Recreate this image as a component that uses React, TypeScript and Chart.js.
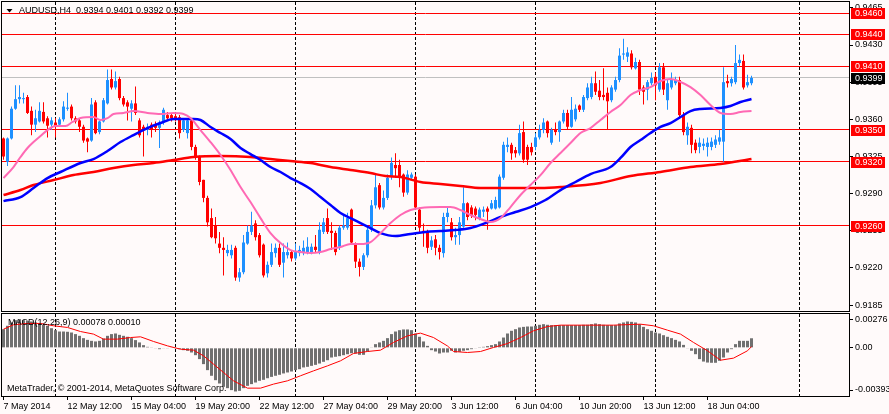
import React, { useEffect, useRef } from 'react'
import { Chart, registerables } from 'chart.js'

Chart.register(...registerables)

const FONT = "'Liberation Sans', Arial, sans-serif"
const BULL = '#1e90ff'
const BEAR = '#ff0000'
const BG = '#fffafa'

// AUDUSD H4 candles, left to right
const opens = [
  0.9342, 0.9320, 0.9342, 0.9370, 0.9379, 0.9379, 0.9381, 0.9368, 0.9355, 0.9358,
  0.9367, 0.9361, 0.9355, 0.9357, 0.9355, 0.9360, 0.9370, 0.9372, 0.9361, 0.9359,
  0.9353, 0.9342, 0.9340, 0.9376, 0.9348, 0.9358, 0.9375, 0.9398, 0.9390, 0.9398,
  0.9380, 0.9376, 0.9370, 0.9375, 0.9359, 0.9353, 0.9350, 0.9355, 0.9355, 0.9352,
  0.9357, 0.9364, 0.9364, 0.9363, 0.9362, 0.9350, 0.9347, 0.9359, 0.9334, 0.9325,
  0.9303, 0.9286, 0.9267, 0.9260, 0.9243, 0.9239, 0.9234, 0.9232, 0.9239, 0.9211,
  0.9216, 0.9243, 0.9254, 0.9262, 0.9251, 0.9242, 0.9215, 0.9223, 0.9234, 0.9239,
  0.9225, 0.9232, 0.9235, 0.9229, 0.9234, 0.9234, 0.9235, 0.9235, 0.9240, 0.9235,
  0.9254, 0.9267, 0.9255, 0.9253, 0.9240, 0.9258, 0.9258, 0.9275, 0.9242, 0.9226,
  0.9221, 0.9232, 0.9256, 0.9279, 0.9298, 0.9277, 0.9286, 0.9306, 0.9317, 0.9317,
  0.9308, 0.9291, 0.9305, 0.9306, 0.9275, 0.9255, 0.9254, 0.9240, 0.9247, 0.9239,
  0.9234, 0.9268, 0.9263, 0.9249, 0.9251, 0.9259, 0.9281, 0.9277, 0.9276, 0.9267,
  0.9273, 0.9276, 0.9276, 0.9276, 0.9277, 0.9305, 0.9334, 0.9336, 0.9331, 0.9328,
  0.9348, 0.9334, 0.9334, 0.9334, 0.9343, 0.9350, 0.9358, 0.9338, 0.9350, 0.9348,
  0.9358, 0.9366, 0.9353, 0.9360, 0.9373, 0.9369, 0.9380, 0.9381, 0.9394, 0.9387,
  0.9383, 0.9385, 0.9378, 0.9388, 0.9397, 0.9421, 0.9419, 0.9422, 0.9408, 0.9414,
  0.9390, 0.9388, 0.9394, 0.9400, 0.9388, 0.9409, 0.9378, 0.9390, 0.9394, 0.9397,
  0.9364, 0.9345, 0.9352, 0.9338, 0.9334, 0.9335, 0.9334, 0.9334, 0.9336, 0.9339,
  0.9339, 0.9396, 0.9394, 0.9395, 0.9413, 0.9415, 0.9392, 0.9394,
]
const highs = [
  0.9343, 0.9343, 0.9372, 0.9392, 0.9392, 0.9385, 0.9383, 0.9372, 0.9369, 0.9376,
  0.9376, 0.9363, 0.9362, 0.9361, 0.9362, 0.9377, 0.9385, 0.9374, 0.9363, 0.9361,
  0.9355, 0.9343, 0.9380, 0.9378, 0.9359, 0.9380, 0.9407, 0.9407, 0.9405, 0.9400,
  0.9382, 0.9378, 0.9378, 0.9391, 0.9361, 0.9355, 0.9356, 0.9357, 0.9358, 0.9359,
  0.9371, 0.9367, 0.9366, 0.9366, 0.9364, 0.9361, 0.9361, 0.9361, 0.9336, 0.9326,
  0.9303, 0.9288, 0.9276, 0.9268, 0.9254, 0.9249, 0.9242, 0.9242, 0.9241, 0.9220,
  0.9251, 0.9260, 0.9273, 0.9265, 0.9253, 0.9243, 0.9226, 0.9243, 0.9243, 0.9243,
  0.9243, 0.9244, 0.9237, 0.9243, 0.9241, 0.9246, 0.9249, 0.9243, 0.9251, 0.9263,
  0.9267, 0.9276, 0.9263, 0.9255, 0.9260, 0.9270, 0.9272, 0.9276, 0.9244, 0.9229,
  0.9234, 0.9260, 0.9284, 0.9308, 0.9300, 0.9293, 0.9308, 0.9324, 0.9328, 0.9322,
  0.9309, 0.9312, 0.9310, 0.9308, 0.9277, 0.9262, 0.9256, 0.9250, 0.9251, 0.9242,
  0.9272, 0.9277, 0.9267, 0.9258, 0.9268, 0.9296, 0.9282, 0.9279, 0.9278, 0.9277,
  0.9278, 0.9278, 0.9284, 0.9287, 0.9308, 0.9339, 0.9343, 0.9338, 0.9334, 0.9355,
  0.9358, 0.9336, 0.9338, 0.9347, 0.9355, 0.9361, 0.9359, 0.9352, 0.9357, 0.9359,
  0.9369, 0.9369, 0.9381, 0.9374, 0.9374, 0.9383, 0.9394, 0.9400, 0.9405, 0.9397,
  0.9408, 0.9390, 0.9392, 0.9400, 0.9427, 0.9436, 0.9428, 0.9425, 0.9418, 0.9416,
  0.9392, 0.9397, 0.9404, 0.9404, 0.9413, 0.9413, 0.9397, 0.9404, 0.9400, 0.9400,
  0.9367, 0.9357, 0.9355, 0.9341, 0.9343, 0.9342, 0.9343, 0.9343, 0.9345, 0.9350,
  0.9409, 0.9402, 0.9400, 0.9430, 0.9421, 0.9421, 0.9402, 0.9401,
]
const lows = [
  0.9322, 0.9316, 0.9341, 0.9369, 0.9375, 0.9375, 0.9365, 0.9345, 0.9348, 0.9357,
  0.9356, 0.9343, 0.9350, 0.9343, 0.9353, 0.9358, 0.9368, 0.9359, 0.9356, 0.9348,
  0.9338, 0.9329, 0.9339, 0.9346, 0.9346, 0.9357, 0.9374, 0.9388, 0.9388, 0.9378,
  0.9372, 0.9359, 0.9358, 0.9364, 0.9343, 0.9325, 0.9345, 0.9343, 0.9348, 0.9333,
  0.9355, 0.9359, 0.9358, 0.9358, 0.9342, 0.9348, 0.9342, 0.9331, 0.9322, 0.9298,
  0.9282, 0.9259, 0.9248, 0.9243, 0.9234, 0.9213, 0.9231, 0.9229, 0.9208, 0.9207,
  0.9214, 0.9242, 0.9251, 0.9246, 0.9230, 0.9211, 0.9211, 0.9221, 0.9230, 0.9221,
  0.9211, 0.9229, 0.9226, 0.9227, 0.9231, 0.9232, 0.9233, 0.9233, 0.9235, 0.9233,
  0.9252, 0.9252, 0.9237, 0.9232, 0.9237, 0.9256, 0.9256, 0.9242, 0.9220, 0.9212,
  0.9218, 0.9230, 0.9254, 0.9276, 0.9275, 0.9275, 0.9284, 0.9303, 0.9305, 0.9296,
  0.9287, 0.9289, 0.9303, 0.9275, 0.9254, 0.9240, 0.9234, 0.9237, 0.9232, 0.9228,
  0.9230, 0.9263, 0.9246, 0.9242, 0.9242, 0.9258, 0.9265, 0.9267, 0.9265, 0.9265,
  0.9268, 0.9256, 0.9275, 0.9275, 0.9276, 0.9303, 0.9329, 0.9322, 0.9324, 0.9326,
  0.9319, 0.9317, 0.9326, 0.9331, 0.9341, 0.9347, 0.9343, 0.9336, 0.9345, 0.9339,
  0.9356, 0.9350, 0.9352, 0.9358, 0.9367, 0.9367, 0.9378, 0.9379, 0.9383, 0.9378,
  0.9378, 0.9350, 0.9376, 0.9386, 0.9395, 0.9416, 0.9414, 0.9407, 0.9407, 0.9383,
  0.9374, 0.9378, 0.9392, 0.9378, 0.9386, 0.9383, 0.9369, 0.9388, 0.9392, 0.9362,
  0.9345, 0.9336, 0.9328, 0.9328, 0.9328, 0.9331, 0.9325, 0.9331, 0.9333, 0.9336,
  0.9320, 0.9390, 0.9391, 0.9393, 0.9410, 0.9388, 0.9390, 0.9392,
]
const closes = [
  0.9325, 0.9342, 0.9370, 0.9379, 0.9381, 0.9380, 0.9366, 0.9355, 0.9361, 0.9368,
  0.9358, 0.9354, 0.9359, 0.9354, 0.9360, 0.9372, 0.9371, 0.9361, 0.9358, 0.9353,
  0.9340, 0.9339, 0.9374, 0.9347, 0.9358, 0.9378, 0.9397, 0.9390, 0.9396, 0.9380,
  0.9374, 0.9372, 0.9375, 0.9366, 0.9345, 0.9350, 0.9353, 0.9350, 0.9352, 0.9357,
  0.9369, 0.9361, 0.9361, 0.9361, 0.9347, 0.9359, 0.9359, 0.9334, 0.9325, 0.9301,
  0.9286, 0.9263, 0.9249, 0.9248, 0.9239, 0.9237, 0.9237, 0.9237, 0.9211, 0.9216,
  0.9244, 0.9254, 0.9260, 0.9249, 0.9232, 0.9213, 0.9223, 0.9235, 0.9239, 0.9223,
  0.9235, 0.9235, 0.9229, 0.9235, 0.9237, 0.9239, 0.9240, 0.9240, 0.9237, 0.9256,
  0.9263, 0.9254, 0.9253, 0.9235, 0.9258, 0.9260, 0.9267, 0.9244, 0.9226, 0.9221,
  0.9232, 0.9256, 0.9279, 0.9296, 0.9277, 0.9286, 0.9305, 0.9319, 0.9314, 0.9305,
  0.9291, 0.9308, 0.9308, 0.9277, 0.9258, 0.9253, 0.9239, 0.9246, 0.9239, 0.9235,
  0.9268, 0.9272, 0.9249, 0.9251, 0.9263, 0.9281, 0.9268, 0.9270, 0.9270, 0.9275,
  0.9275, 0.9273, 0.9281, 0.9284, 0.9306, 0.9336, 0.9336, 0.9328, 0.9328, 0.9347,
  0.9322, 0.9322, 0.9329, 0.9343, 0.9350, 0.9357, 0.9347, 0.9350, 0.9348, 0.9358,
  0.9366, 0.9353, 0.9369, 0.9370, 0.9369, 0.9381, 0.9390, 0.9394, 0.9386, 0.9381,
  0.9381, 0.9377, 0.9390, 0.9397, 0.9420, 0.9422, 0.9423, 0.9409, 0.9414, 0.9388,
  0.9386, 0.9395, 0.9399, 0.9392, 0.9409, 0.9388, 0.9394, 0.9397, 0.9397, 0.9364,
  0.9348, 0.9353, 0.9336, 0.9331, 0.9338, 0.9337, 0.9338, 0.9339, 0.9341, 0.9343,
  0.9395, 0.9394, 0.9398, 0.9413, 0.9416, 0.9390, 0.9395, 0.9399,
]

// moving averages: [bar index, price]
const maFast = [
  [0, 0.93047], [2.5, 0.93151], [4.25, 0.93245], [6, 0.9333], [7.5, 0.93386], [9.25, 0.93443],
  [11, 0.93499], [13, 0.93537], [15.5, 0.93537], [17.25, 0.93575], [19.25, 0.93612], [22.5, 0.93622],
  [24.25, 0.93594], [26, 0.93612], [27.5, 0.9365], [30, 0.9366], [32.5, 0.93678], [36, 0.9366],
  [39.25, 0.9365], [42.5, 0.9366], [45, 0.9365], [46.75, 0.93612], [49.25, 0.93499], [51.75, 0.93386],
  [54.25, 0.93264], [56.75, 0.93123], [59.25, 0.92962], [61.75, 0.92821], [64.25, 0.9267], [66.75, 0.92529],
  [69.25, 0.92435], [71.75, 0.92369], [74.25, 0.9235], [76.75, 0.92341], [79.25, 0.9235], [81.75, 0.92378],
  [84.25, 0.92397], [86.75, 0.92426], [89.25, 0.92426], [91.75, 0.92444], [94.25, 0.92529], [96.75, 0.92623],
  [99.25, 0.92699], [101.75, 0.92746], [104.25, 0.92765], [109.25, 0.92774], [111.75, 0.92774], [114.25, 0.92746],
  [116.75, 0.92699], [119.25, 0.92661], [121.75, 0.92633], [124.25, 0.9267], [126.75, 0.92774], [129.25, 0.92887],
  [131.75, 0.92981], [134.25, 0.93075], [136.75, 0.93189], [139.25, 0.93283], [141.75, 0.93377], [144.25, 0.93471],
  [146.75, 0.93518], [149.25, 0.93594], [151.75, 0.93669], [154.25, 0.93735], [156.75, 0.93829], [159.25, 0.93876],
  [161.75, 0.93904], [164.25, 0.93961], [166.75, 0.9398], [169.25, 0.93952], [171.75, 0.93904], [174.25, 0.93829],
  [176.75, 0.93735], [179.25, 0.9366], [181.75, 0.9365], [184.25, 0.93669], [187, 0.93678],
]
const maMid = [
  [0, 0.9283], [4.25, 0.92868], [7.5, 0.92953], [11, 0.93047], [14.25, 0.93104], [19.25, 0.93189],
  [22.5, 0.93226], [26, 0.93302], [29.25, 0.93386], [32.5, 0.93452], [36, 0.93518], [39.25, 0.93565],
  [42.5, 0.93603], [47.5, 0.93603], [49.25, 0.93594], [51.75, 0.93528], [54.25, 0.93471], [56.75, 0.93415],
  [59.25, 0.9333], [61.75, 0.93273], [64.25, 0.93217], [66.75, 0.93151], [69.25, 0.93104], [71.75, 0.93047],
  [74.25, 0.93], [76.75, 0.92944], [79.25, 0.92868], [81.75, 0.92793], [84.25, 0.92718], [86.75, 0.9267],
  [89.25, 0.92623], [91.75, 0.92576], [94.25, 0.92529], [98, 0.92501], [101.75, 0.9252], [105.5, 0.92539],
  [109.25, 0.92548], [113, 0.92557], [116.75, 0.92576], [120.5, 0.92623], [124.25, 0.9268], [128, 0.92727],
  [131.75, 0.92774], [135.5, 0.9284], [139.25, 0.92934], [143, 0.9301], [146.75, 0.93085], [151.75, 0.93151],
  [154.25, 0.93236], [156.75, 0.93339], [159.25, 0.93405], [161.75, 0.93471], [164.25, 0.93528], [166.75, 0.93565],
  [169.25, 0.93622], [171.75, 0.93678], [174.25, 0.93697], [179.25, 0.93707], [181.75, 0.93725], [184.25, 0.93763],
  [187, 0.93791],
]
const maSlow = [
  [0, 0.92887], [4.25, 0.92934], [7.5, 0.92981], [12.5, 0.93028], [17.5, 0.93075], [22.5, 0.93104],
  [27.5, 0.93141], [32.5, 0.9317], [37.5, 0.93189], [42.5, 0.93217], [47.5, 0.93245], [54.25, 0.93254],
  [61.75, 0.93245], [66.75, 0.93226], [71.75, 0.93207], [76.75, 0.93189], [81.75, 0.93151], [86.75, 0.93123],
  [91.75, 0.93094], [95.5, 0.93066], [99.25, 0.93057], [104.25, 0.9301], [109.25, 0.92991], [114.25, 0.92972],
  [119.25, 0.92953], [129.25, 0.92953], [134.25, 0.92953], [139.25, 0.92962], [149.25, 0.93], [156.75, 0.93066],
  [164.25, 0.93104], [171.75, 0.93151], [179.25, 0.93179], [187, 0.93226],
]

// MACD(12,26,9) histogram, one value per bar
const macdHist = [
  0.00152, 0.0018, 0.00207, 0.00226, 0.00234, 0.00226, 0.0022, 0.00215, 0.00207, 0.00199,
  0.00188, 0.0018, 0.0016, 0.00144, 0.00133, 0.00133, 0.00131, 0.00125, 0.00112, 0.00098,
  0.00079, 0.00065, 0.00057, 0.00052, 0.00057, 0.00076, 0.00098, 0.00112, 0.00117, 0.00106,
  0.00098, 0.0009, 0.00079, 0.00063, 0.00044, 0.00022, 0.00008, 0.00003, -0.00005, -0.00011,
  -0.00005, -0.00003, 0.00003, -0.00005, -0.00011, -0.00019, -0.00024, -0.00038, -0.0006, -0.00092,
  -0.00133, -0.00182, -0.00228, -0.00264, -0.00291, -0.00318, -0.00329, -0.00345, -0.00356, -0.00351,
  -0.00329, -0.0031, -0.00296, -0.00283, -0.00269, -0.00261, -0.00248, -0.00237, -0.00228, -0.0022,
  -0.00209, -0.00201, -0.00193, -0.00182, -0.00174, -0.0016, -0.00155, -0.00147, -0.00139, -0.00128,
  -0.00114, -0.00101, -0.00079, -0.00073, -0.00068, -0.0006, -0.00052, -0.00044, -0.00046, -0.00057,
  -0.00057, -0.0003, 0.00003, 0.0003, 0.00044, 0.00057, 0.00079, 0.00112, 0.00133, 0.00144,
  0.0015, 0.0015, 0.00144, 0.00117, 0.0009, 0.00052, 0.00016, -0.00019, -0.0003, -0.00046,
  -0.00038, -0.00038, -0.00024, -0.00038, -0.00033, -0.00024, -0.00019, -0.00011, -0.00005, 0.00002,
  0.00008, 0.00014, 0.00022, 0.0003, 0.00052, 0.00084, 0.00117, 0.00139, 0.00152, 0.00166,
  0.00171, 0.00174, 0.00174, 0.0018, 0.00188, 0.00193, 0.00188, 0.00185, 0.00185, 0.00185,
  0.00185, 0.00185, 0.00185, 0.00185, 0.00185, 0.00188, 0.00188, 0.00193, 0.00199, 0.00193,
  0.00188, 0.00185, 0.00185, 0.00185, 0.00199, 0.00207, 0.00215, 0.00212, 0.00207, 0.00193,
  0.00171, 0.00152, 0.00139, 0.00125, 0.00117, 0.00103, 0.0009, 0.00079, 0.00065, 0.00052,
  0.00024, -0.00005, -0.00024, -0.00052, -0.00092, -0.00112, -0.0012, -0.00122, -0.00122, -0.00106,
  -0.00079, -0.00038, -0.00011, 0.0003, 0.00057, 0.00057, 0.00057, 0.00078,
]
// signal line: [bar index, value]
const macdSignal = [
  [0, 0.00152], [2.5, 0.00188], [6, 0.00199], [9.25, 0.00199], [12.5, 0.0018], [16, 0.00166],
  [19.25, 0.00133], [22.5, 0.00112], [25, 0.00071], [28.5, 0.00071], [31.75, 0.00084], [34.25, 0.0009],
  [37.5, 0.00052], [41, 0.00016], [44.25, -0.00011], [47.5, -0.00019], [50, -0.00065], [52.5, -0.00133],
  [55, -0.00201], [57.5, -0.00269], [61, -0.00329], [64.25, -0.00329], [67.5, -0.00296], [71, -0.00269],
  [74.25, -0.00228], [77.5, -0.00188], [81, -0.00147], [84.25, -0.00106], [87.5, -0.00046], [91, -0.0003],
  [94.25, -0.00019], [97.5, 0.00044], [101, 0.00098], [104.25, 0.0012], [107.5, 0.00084], [111, 0.00015],
  [112.5, -0.0003], [116, -0.00038], [119.25, -0.0003], [122.5, 0.00003], [126, 0.00035], [129.25, 0.00084],
  [132.5, 0.00139], [136, 0.00174], [139.25, 0.00185], [146, 0.00185], [152.5, 0.00185], [159.25, 0.00193],
  [162.5, 0.0018], [166, 0.00144], [169.25, 0.00112], [172.5, 0.00044], [176, -0.00024], [179.25, -0.00101],
  [182.5, -0.00084], [186, -0.00024], [187, 0.0001],
]

const priceTicks = [0.9465, 0.943, 0.9395, 0.936, 0.9325, 0.929, 0.9255, 0.922, 0.9185]
const levels = [0.946, 0.944, 0.941, 0.935, 0.932, 0.926]
const xTickIdx = [0, 16, 32, 48, 64, 80, 96, 112, 128, 144, 160, 176]
const xTickText = [
  '7 May 2014', '12 May 12:00', '15 May 04:00', '19 May 20:00', '22 May 12:00', '27 May 04:00',
  '29 May 20:00', '3 Jun 12:00', '6 Jun 04:00', '10 Jun 20:00', '13 Jun 12:00', '18 Jun 04:00',
]
const gridIdx = [13, 43, 73, 103, 133, 163, 199]

const X_MIN = -0.375
const X_MAX = 211.375
const P_MIN = 0.91795
const P_MAX = 0.94705
const M_MIN = -0.00393
const M_MAX = 0.00276
const macdTickText = [M_MAX.toFixed(5), '0.00', M_MIN.toFixed(5)]

const last = closes.length - 1
const candleColors = opens.map((o, i) => (closes[i] >= o ? BULL : BEAR))
const toPts = (arr: number[][]) => arr.map(([x, y]) => ({ x, y }))

// chart.js keeps room for half a label at both ends of an axis; MT4 does not
const noEdgePadding = (s: any) => {
  s.paddingTop = 0
  s.paddingBottom = 0
  s.paddingLeft = 0
  s.paddingRight = 0
}

const drawVGrid = (chart: any) => {
  const { ctx, chartArea: a, scales } = chart
  ctx.save()
  ctx.strokeStyle = '#000'
  ctx.lineWidth = 1
  ctx.setLineDash([3, 2])
  gridIdx.forEach((i) => {
    const px = Math.floor(scales.x.getPixelForValue(i)) + 0.5
    ctx.beginPath()
    ctx.moveTo(px, a.top)
    ctx.lineTo(px, a.bottom)
    ctx.stroke()
  })
  ctx.restore()
}

const drawFrame = (chart: any) => {
  const { ctx, chartArea: a } = chart
  ctx.save()
  ctx.strokeStyle = '#000'
  ctx.lineWidth = 1
  ctx.strokeRect(a.left - 0.5, a.top - 0.5, a.right - a.left + 1, a.bottom - a.top + 1)
  ctx.restore()
}

const drawTag = (ctx: CanvasRenderingContext2D, x: number, py: number, text: string, bg: string) => {
  const cy = Math.round(py)
  ctx.fillStyle = bg
  ctx.fillRect(x + 2, cy - 5, 34, 11)
  ctx.fillStyle = '#fff'
  ctx.font = `9px ${FONT}`
  ctx.textAlign = 'left'
  ctx.textBaseline = 'middle'
  ctx.fillText(text, x + 6, cy + 0.5)
}

const priceDecor = {
  id: 'priceDecor',
  beforeDatasetsDraw(chart: any) {
    const { ctx, chartArea: a, scales } = chart
    drawVGrid(chart)
    ctx.save()
    ctx.lineWidth = 1
    ctx.strokeStyle = '#c0c0c0'
    let py = Math.floor(scales.y.getPixelForValue(closes[last])) + 0.5
    ctx.beginPath()
    ctx.moveTo(a.left, py)
    ctx.lineTo(a.right, py)
    ctx.stroke()
    ctx.strokeStyle = '#ff0000'
    levels.forEach((v) => {
      py = Math.floor(scales.y.getPixelForValue(v)) + 0.5
      ctx.beginPath()
      ctx.moveTo(a.left, py)
      ctx.lineTo(a.right, py)
      ctx.stroke()
    })
    ctx.restore()
  },
  afterDraw(chart: any) {
    const { ctx, chartArea: a, scales } = chart
    drawFrame(chart)
    ctx.save()
    levels.forEach((v) => drawTag(ctx, a.right, scales.y.getPixelForValue(v), v.toFixed(4), '#ff0000'))
    drawTag(ctx, a.right, scales.y.getPixelForValue(closes[last]), closes[last].toFixed(4), '#000')
    // header
    ctx.fillStyle = '#000'
    ctx.beginPath()
    ctx.moveTo(6.5, 9)
    ctx.lineTo(12.5, 9)
    ctx.lineTo(9.5, 12.5)
    ctx.closePath()
    ctx.fill()
    ctx.font = `9px ${FONT}`
    ctx.textAlign = 'left'
    ctx.textBaseline = 'middle'
    const ohlc = [opens[last], highs[last], lows[last], closes[last]].map((v) => v.toFixed(4)).join(' ')
    ctx.fillText(`AUDUSD,H4  ${ohlc}`, 19, 10.5)
    ctx.restore()
  },
}

const macdDecor = {
  id: 'macdDecor',
  beforeDatasetsDraw(chart: any) {
    drawVGrid(chart)
  },
  afterDraw(chart: any) {
    const { ctx } = chart
    drawFrame(chart)
    ctx.save()
    ctx.fillStyle = '#000'
    ctx.font = `9px ${FONT}`
    ctx.textAlign = 'left'
    ctx.textBaseline = 'middle'
    const sig = macdSignal[macdSignal.length - 1][1]
    ctx.fillText(`MACD(12,26,9) ${macdHist[last].toFixed(5)} ${sig.toFixed(5)}`, 8, 10.5)
    ctx.fillText('MetaTrader, \u00a9 2001-2014, MetaQuotes Software Corp.', 7, 77)
    ctx.restore()
  },
}

const tickFont = { family: FONT, size: 9 }

function PriceChart() {
  const canvasRef = useRef<HTMLCanvasElement | null>(null)

  useEffect(() => {
    if (!canvasRef.current) return
    const chart = new Chart(canvasRef.current, {
      type: 'bar',
      data: {
        datasets: [
          {
            type: 'line', data: toPts(maFast), borderColor: '#ff69b4', borderWidth: 2,
            pointRadius: 0, cubicInterpolationMode: 'monotone', order: 0,
          },
          {
            type: 'line', data: toPts(maMid), borderColor: '#0000ff', borderWidth: 2.5,
            pointRadius: 0, cubicInterpolationMode: 'monotone', order: 0,
          },
          {
            type: 'line', data: toPts(maSlow), borderColor: '#ff0000', borderWidth: 2.5,
            pointRadius: 0, cubicInterpolationMode: 'monotone', order: 0,
          },
          {
            type: 'bar', data: opens.map((_, i) => ({ x: i, y: [lows[i], highs[i]] })),
            backgroundColor: candleColors, barThickness: 1, grouped: false, inflateAmount: 0, order: 3,
          },
          {
            type: 'bar', data: opens.map((o, i) => ({ x: i, y: [o, closes[i]] })),
            backgroundColor: candleColors, barThickness: 3, grouped: false, inflateAmount: 0,
            minBarLength: 1, order: 2,
          },
        ] as any,
      },
      options: {
        animation: false,
        responsive: false,
        events: [],
        layout: { padding: { left: 2, top: 2, bottom: 1, right: 0 } },
        plugins: { legend: { display: false }, tooltip: { enabled: false } },
        scales: {
          x: { type: 'linear', min: X_MIN, max: X_MAX, display: false, offset: false },
          y: {
            position: 'right', min: P_MIN, max: P_MAX, bounds: 'data', beginAtZero: false,
            afterBuildTicks: (s: any) => { s.ticks = priceTicks.map((value) => ({ value })) },
            afterFit: (s: any) => { s.width = 40; noEdgePadding(s) },
            ticks: { callback: (v: any) => Number(v).toFixed(4), font: tickFont, color: '#000', padding: 2, autoSkip: false },
            grid: { drawOnChartArea: false, tickLength: 4, color: '#000' },
            border: { display: false },
          },
        },
      } as any,
      plugins: [priceDecor],
    })
    return () => {
      chart.destroy()
    }
  }, [])

  return <canvas ref={canvasRef} width={889} height={312} style={{ display: 'block', width: 889, height: 312 }} />
}

function MacdChart() {
  const canvasRef = useRef<HTMLCanvasElement | null>(null)

  useEffect(() => {
    if (!canvasRef.current) return
    const chart = new Chart(canvasRef.current, {
      type: 'bar',
      data: {
        datasets: [
          {
            type: 'line', data: toPts(macdSignal), borderColor: '#ff0000', borderWidth: 1,
            pointRadius: 0, order: 0,
          },
          {
            type: 'bar', data: macdHist.map((v, i) => ({ x: i, y: v })), backgroundColor: '#707070',
            barThickness: 3, grouped: false, inflateAmount: 0, order: 1,
          },
        ] as any,
      },
      options: {
        animation: false,
        responsive: false,
        events: [],
        layout: { padding: { left: 2, top: 2, bottom: 0, right: 0 } },
        plugins: { legend: { display: false }, tooltip: { enabled: false } },
        scales: {
          x: {
            type: 'linear', min: X_MIN, max: X_MAX, offset: false, position: 'bottom',
            afterBuildTicks: (s: any) => { s.ticks = xTickIdx.map((value) => ({ value })) },
            afterFit: (s: any) => { s.height = 18; noEdgePadding(s) },
            ticks: {
              callback: (_v: any, i: number) => xTickText[i], font: tickFont, color: '#000',
              align: 'start', maxRotation: 0, minRotation: 0, autoSkip: false, padding: 1,
            },
            grid: { drawOnChartArea: false, tickLength: 4, color: '#000', offset: false },
            border: { display: false },
          },
          y: {
            position: 'right', min: M_MIN, max: M_MAX, bounds: 'data', beginAtZero: false,
            afterBuildTicks: (s: any) => {
              const inset = ((M_MAX - M_MIN) * 6) / 82
              s.ticks = [{ value: M_MAX - inset }, { value: 0 }, { value: M_MIN + inset }]
            },
            afterFit: (s: any) => { s.width = 40; noEdgePadding(s) },
            ticks: { callback: (_v: any, i: number) => macdTickText[i], font: tickFont, color: '#000', padding: 2, autoSkip: false },
            grid: { drawOnChartArea: false, tickLength: 4, color: '#000' },
            border: { display: false },
          },
        },
      } as any,
      plugins: [macdDecor],
    })
    return () => {
      chart.destroy()
    }
  }, [])

  return <canvas ref={canvasRef} width={889} height={102} style={{ display: 'block', width: 889, height: 102 }} />
}

export default function App() {
  return (
    <div style={{ position: 'absolute', left: 0, top: 0, width: 889, height: 414, background: BG, overflow: 'hidden' }}>
      <PriceChart />
      <MacdChart />
    </div>
  )
}
